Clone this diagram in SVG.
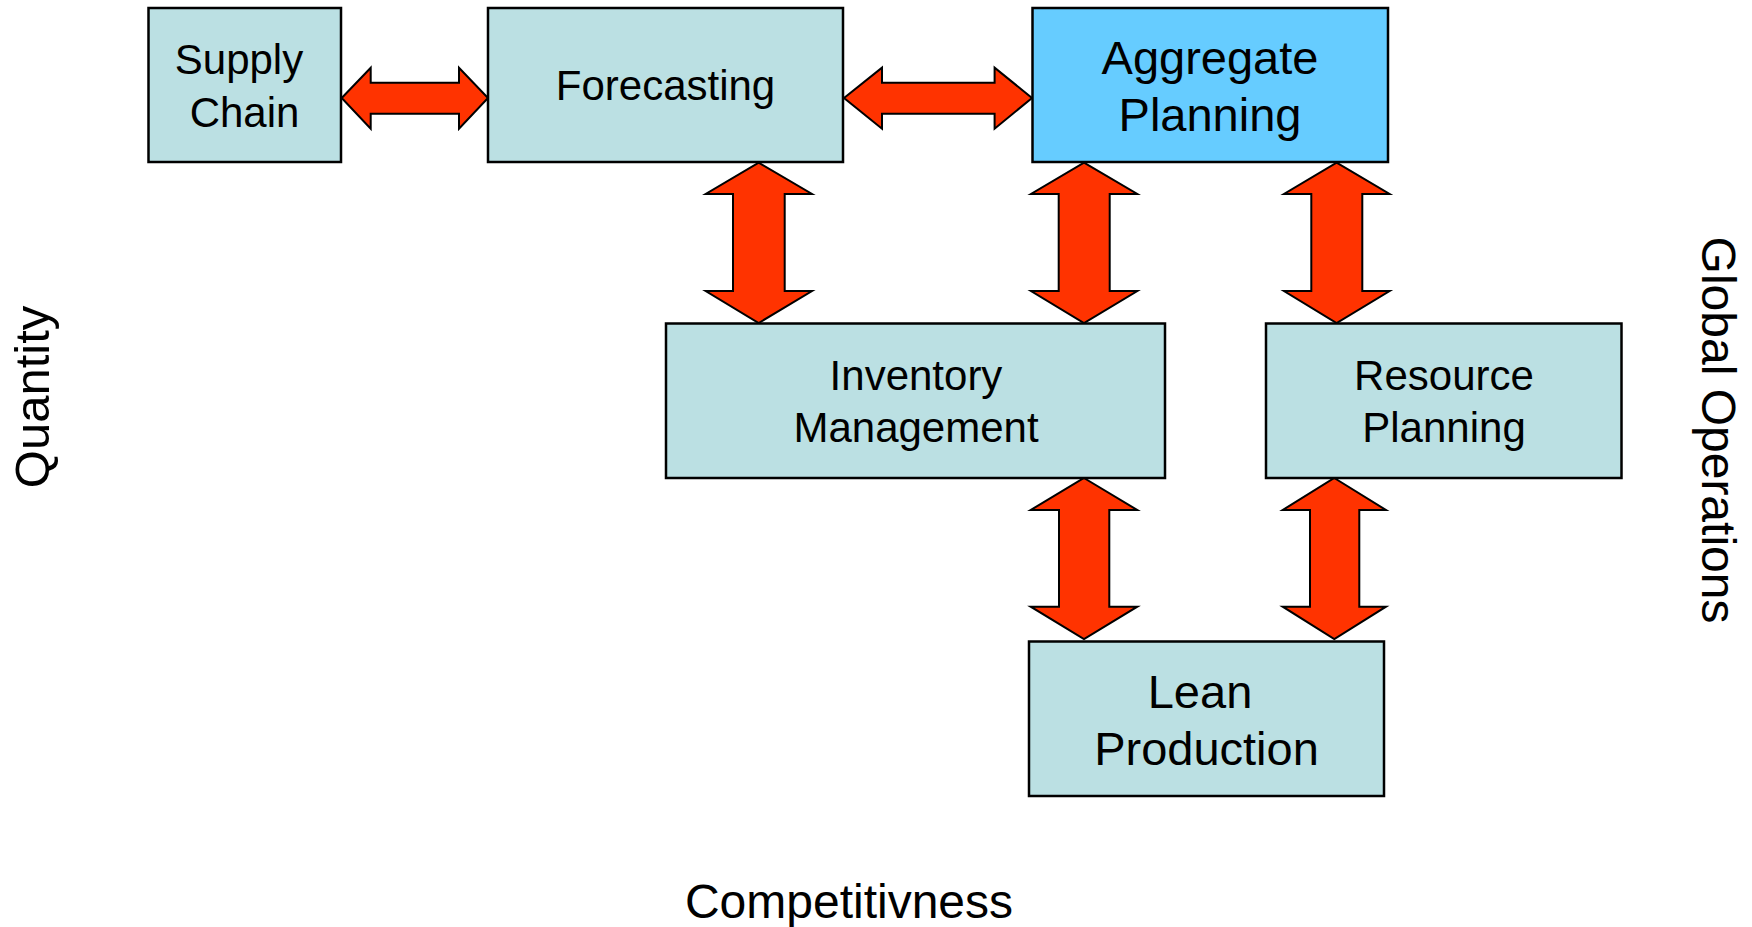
<svg xmlns="http://www.w3.org/2000/svg" width="1752" height="927" viewBox="0 0 1752 927">
<style>
.box{fill:#BBE0E3;stroke:#000;stroke-width:2.5}
.agg{fill:#66CCFF;stroke:#000;stroke-width:2.5}
.arr{fill:#FF3300;stroke:#000;stroke-width:2;stroke-linejoin:miter}
text{font-family:"Liberation Sans",Arial,sans-serif;fill:#000;text-anchor:middle}
.t42{font-size:42px}
.t47{font-size:47px}
.lab{font-size:48px}
</style>
<rect width="1752" height="927" fill="#fff"/>
<g id="connectors">
<polygon class="arr" points="341.7,98 370.7,67.7 370.7,82.7 459,82.7 459,67.7 488,98 459,128.7 459,113.7 370.7,113.7 370.7,128.7"/>
<polygon class="arr" points="844,98 882,67.7 882,82.7 994.6,82.7 994.6,67.7 1032,98 994.6,128.7 994.6,113.7 882,113.7 882,128.7"/>
<polygon class="arr" points="758.7,162.7 812,194 784.7,194 784.7,291 812,291 758.7,323 705.7,291 733,291 733,194 705.7,194"/>
<polygon class="arr" points="1084,162.7 1137.3,194 1109.7,194 1109.7,291 1137.3,291 1084,323 1031,291 1058.7,291 1058.7,194 1031,194"/>
<polygon class="arr" points="1336.6,162.7 1389.6,194 1362.3,194 1362.3,291 1389.6,291 1336.6,323 1284,291 1311.3,291 1311.3,194 1284,194"/>
<polygon class="arr" points="1084,478 1137.3,510 1109.3,510 1109.3,606.7 1137.3,606.7 1084,639 1030.7,606.7 1059,606.7 1059,510 1030.7,510"/>
<polygon class="arr" points="1334.3,478 1386,510 1359.3,510 1359.3,606.7 1386,606.7 1334.3,639 1282.7,606.7 1310,606.7 1310,510 1282.7,510"/>
</g>
<g id="supply-chain">
<rect class="box" x="148.5" y="8" width="192.5" height="154"/>
<text class="t42" x="239" y="74">Supply</text>
<text class="t42" x="244.5" y="127">Chain</text>
</g>
<g id="forecasting">
<rect class="box" x="488" y="8" width="355" height="154"/>
<text class="t42" x="665.5" y="100">Forecasting</text>
</g>
<g id="aggregate-planning">
<rect class="agg" x="1032.5" y="8" width="355.5" height="154"/>
<text class="t47" x="1210" y="74">Aggregate</text>
<text class="t47" x="1210" y="131">Planning</text>
</g>
<g id="inventory-management">
<rect class="box" x="666" y="323.5" width="499" height="154.5"/>
<text class="t42" x="916" y="390">Inventory</text>
<text class="t42" x="916" y="442">Management</text>
</g>
<g id="resource-planning">
<rect class="box" x="1266" y="323.5" width="355.5" height="154.5"/>
<text class="t42" x="1444" y="390">Resource</text>
<text class="t42" x="1444" y="442">Planning</text>
</g>
<g id="lean-production">
<rect class="box" x="1029" y="641.5" width="355" height="154.5"/>
<text class="t47" x="1200" y="708">Lean</text>
<text class="t47" x="1206.5" y="765">Production</text>
</g>
<g id="side-labels">
<text class="lab" style="font-size:49px" transform="translate(49,397) rotate(-90)">Quantity</text>
<text class="lab" transform="translate(1702,430) rotate(90)">Global Operations</text>
<text class="lab" x="849" y="918">Competitivness</text>
</g>
</svg>
